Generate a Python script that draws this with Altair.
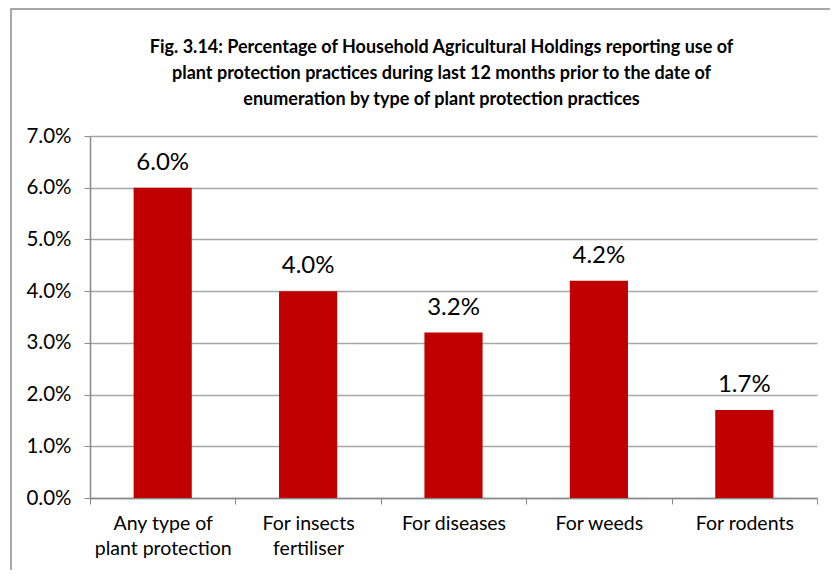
import altair as alt
import pandas as pd

categories = ["Any type of\nplant protection", "For insects\nfertiliser", "For diseases", "For weeds", "For rodents"]
values = [0.060, 0.040, 0.032, 0.042, 0.017]
y_ticks = [0.0, 0.01, 0.02, 0.03, 0.04, 0.05, 0.06, 0.07]
title_lines = [
    "Fig. 3.14: Percentage of Household Agricultural Holdings reporting use of",
    "plant protection practices during last  12 months prior to the date of",
    "enumeration by type of plant protection practices",
]

df = pd.DataFrame({"cat": categories, "val": values})

FONT = "Lato"

x_enc = alt.X(
    "cat:N",
    sort=categories,
    scale=alt.Scale(paddingInner=0, paddingOuter=0),
    axis=alt.Axis(
        title=None,
        labelAngle=0,
        labelExpr="split(datum.label, '\\n')",
        labelFont=FONT,
        labelFontSize=19.5,
        labelColor="#000000",
        labelLineHeight=25,
        labelPadding=10,
        tickBand="extent",
        tickSize=6,
        tickColor="#888888",
        domainColor="#888888",
        domainWidth=1.5,
        grid=False,
    ),
)

y_enc = alt.Y(
    "val:Q",
    scale=alt.Scale(domain=[0, 0.07], nice=False),
    axis=alt.Axis(
        title=None,
        values=y_ticks,
        format=".1%",
        labelFont=FONT,
        labelFontSize=20.5,
        labelColor="#000000",
        labelPadding=13,
        tickSize=6,
        tickColor="#888888",
        domainColor="#888888",
        domainWidth=1.5,
        gridColor="#A6A6A6",
        gridWidth=1.5,
    ),
)

bars = alt.Chart(df).mark_bar(color="#C00000", width=alt.RelativeBandSize(0.4)).encode(
    x=x_enc, y=y_enc
)

labels = alt.Chart(df).mark_text(
    font=FONT, fontSize=24, color="#000000", baseline="alphabetic", dy=-18
).encode(
    x=alt.X("cat:N", sort=categories),
    y="val:Q",
    text=alt.Text("val:Q", format=".1%"),
)

frame = alt.Chart(alt.Data(values=[{"a": 1}])).mark_rect(
    fill=None, stroke="#8C8C8C", strokeWidth=1.5, clip=False
).encode(
    x=alt.value(-79), x2=alt.value(790), y=alt.value(-127), y2=alt.value(470)
)

chart = alt.layer(frame, bars, labels).properties(
    width=727,
    height=362,
    autosize=alt.AutoSizeParams(type="none"),
    padding={"left": 82, "top": 128, "right": 13, "bottom": 72},
    title=alt.Title(
        text=title_lines,
        font=FONT,
        fontSize=18,
        fontWeight="bold",
        color="#000000",
        anchor="middle",
        frame="group",
        lineHeight=26,
        offset=-101,
        dx=-12,
    ),
).configure_view(stroke=None)

chart.save("out.html", embed_options={"renderer": "svg", "actions": False})
